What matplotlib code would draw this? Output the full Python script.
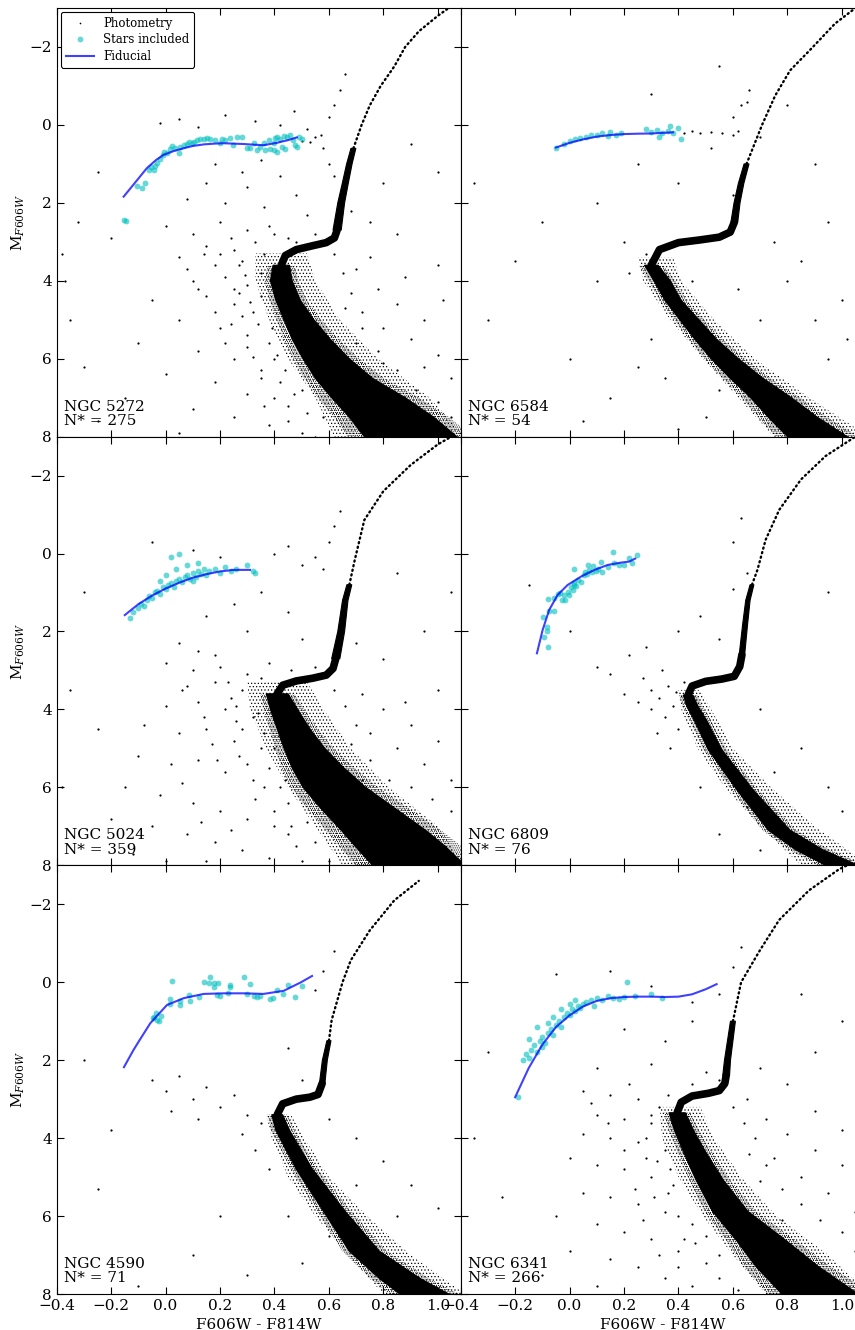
import matplotlib
matplotlib.use("Agg")
import matplotlib.pyplot as plt
import numpy as np
from matplotlib.patches import Polygon
from matplotlib.lines import Line2D

plt.rcParams['font.family'] = ['DejaVu Serif']
plt.rcParams['mathtext.fontset'] = 'dejavuserif'
plt.rcParams['hatch.linewidth'] = 0.5
plt.rcParams['hatch.color'] = 'black'
for ax_ in ('xtick', 'ytick'):
    plt.rcParams[ax_ + '.direction'] = 'in'
    plt.rcParams[ax_ + '.major.size'] = 5
    plt.rcParams[ax_ + '.major.width'] = 0.8
plt.rcParams['xtick.top'] = True
plt.rcParams['ytick.right'] = True

# ---------------- data ----------------
clusters = ["NGC 5272", "NGC 6584", "NGC 5024", "NGC 6809", "NGC 4590", "NGC 6341"]
n_stars = [275, 54, 359, 76, 71, 266]
x_ticks = [-0.4, -0.2, 0.0, 0.2, 0.4, 0.6, 0.8, 1.0]
y_ticks = [-2, 0, 2, 4, 6, 8]

# main sequence below the turn-off: magnitude, ridge colour, colour spread
ms_m_5272 = [3.6, 4.0, 4.5, 5.0, 5.5, 6.0, 6.5, 7.0, 7.5, 8.0, 8.3]
ms_c_5272 = [0.425, 0.425, 0.45, 0.49, 0.535, 0.59, 0.655, 0.745, 0.83, 0.90, 0.95]
ms_w_5272 = [0.06, 0.08, 0.09, 0.11, 0.14, 0.17, 0.21, 0.27, 0.31, 0.34, 0.34]
ms_m_6584 = [3.6, 4.0, 4.5, 5.0, 5.5, 6.0, 6.5, 7.0, 7.5, 8.0, 8.3]
ms_c_6584 = [0.30, 0.34, 0.38, 0.44, 0.50, 0.57, 0.65, 0.74, 0.82, 0.91, 0.97]
ms_w_6584 = [0.05, 0.06, 0.06, 0.07, 0.08, 0.10, 0.12, 0.15, 0.18, 0.22, 0.22]
ms_m_5024 = [3.6, 4.0, 4.5, 5.0, 5.5, 6.0, 6.5, 7.1, 7.5, 8.0, 8.3]
ms_c_5024 = [0.41, 0.435, 0.47, 0.51, 0.56, 0.62, 0.70, 0.80, 0.86, 0.93, 0.98]
ms_w_5024 = [0.08, 0.10, 0.12, 0.15, 0.19, 0.23, 0.27, 0.31, 0.33, 0.34, 0.34]
ms_m_6809 = [3.63, 3.9, 4.27, 5.04, 6.07, 7.1, 7.6, 8.0, 8.3]
ms_c_6809 = [0.435, 0.45, 0.48, 0.535, 0.645, 0.77, 0.88, 1.0, 1.07]
ms_w_6809 = [0.035, 0.04, 0.045, 0.05, 0.06, 0.08, 0.10, 0.12, 0.12]
ms_m_4590 = [3.4, 3.8, 4.8, 5.88, 6.9, 7.6, 8.0, 8.3]
ms_c_4590 = [0.41, 0.43, 0.51, 0.62, 0.73, 0.86, 0.95, 1.01]
ms_w_4590 = [0.04, 0.05, 0.06, 0.08, 0.11, 0.15, 0.18, 0.18]
ms_m_6341 = [3.35, 3.8, 4.3, 5.08, 5.88, 6.6, 7.3, 8.0, 8.3]
ms_c_6341 = [0.395, 0.42, 0.455, 0.515, 0.59, 0.70, 0.80, 0.92, 0.97]
ms_w_6341 = [0.06, 0.07, 0.08, 0.10, 0.13, 0.18, 0.23, 0.28, 0.28]

# sub-giant branch (turn-off to base of the giant branch)
sgb_c_5272 = [0.425, 0.44, 0.48, 0.54, 0.59, 0.62, 0.63]
sgb_m_5272 = [3.6, 3.35, 3.2, 3.1, 3.02, 2.9, 2.7]
sgb_c_6584 = [0.30, 0.33, 0.40, 0.48, 0.55, 0.59, 0.605]
sgb_m_6584 = [3.6, 3.2, 3.02, 2.95, 2.88, 2.75, 2.5]
sgb_c_5024 = [0.41, 0.43, 0.48, 0.54, 0.59, 0.615, 0.625]
sgb_m_5024 = [3.6, 3.38, 3.27, 3.2, 3.12, 2.95, 2.7]
sgb_c_6809 = [0.435, 0.45, 0.50, 0.56, 0.605, 0.625, 0.633]
sgb_m_6809 = [3.63, 3.4, 3.28, 3.22, 3.15, 2.9, 2.6]
sgb_c_4590 = [0.41, 0.43, 0.48, 0.53, 0.56, 0.575]
sgb_m_4590 = [3.4, 3.12, 3.0, 2.95, 2.88, 2.6]
sgb_c_6341 = [0.395, 0.41, 0.45, 0.51, 0.55, 0.57, 0.575]
sgb_m_6341 = [3.35, 3.08, 2.92, 2.85, 2.78, 2.6, 2.4]

# dense lower red-giant branch: magnitude, ridge colour, colour spread
rgb_m_5272 = [2.7, 2.0, 1.5, 1.0, 0.6]
rgb_c_5272 = [0.63, 0.645, 0.66, 0.675, 0.69]
rgb_w_5272 = [0.03, 0.025, 0.022, 0.02, 0.018]
rgb_m_6584 = [2.5, 2.0, 1.5, 1.0]
rgb_c_6584 = [0.605, 0.615, 0.63, 0.65]
rgb_w_6584 = [0.025, 0.022, 0.02, 0.018]
rgb_m_5024 = [2.7, 2.0, 1.2, 0.8]
rgb_c_5024 = [0.625, 0.645, 0.66, 0.675]
rgb_w_5024 = [0.03, 0.025, 0.02, 0.018]
rgb_m_6809 = [2.6, 1.8, 1.2, 0.8]
rgb_c_6809 = [0.633, 0.645, 0.655, 0.67]
rgb_w_6809 = [0.02, 0.018, 0.016, 0.014]
rgb_m_4590 = [2.6, 2.0, 1.5]
rgb_c_4590 = [0.575, 0.585, 0.60]
rgb_w_4590 = [0.02, 0.018, 0.015]
rgb_m_6341 = [2.4, 2.0, 1.0]
rgb_c_6341 = [0.575, 0.58, 0.60]
rgb_w_6341 = [0.025, 0.022, 0.018]

# sparse upper giant branch
up_c_5272 = [0.69, 0.72, 0.75, 0.79, 0.84, 0.88, 0.93, 1.0, 1.04]
up_m_5272 = [0.6, 0.0, -0.5, -1.0, -1.5, -2.0, -2.4, -2.8, -3.0]
up_c_6584 = [0.65, 0.707, 0.755, 0.81, 0.88, 0.975, 1.05]
up_m_6584 = [1.0, 0.0, -0.75, -1.4, -1.9, -2.6, -3.0]
up_c_5024 = [0.675, 0.695, 0.73, 0.80, 0.90, 1.0, 1.05]
up_m_5024 = [0.8, 0.16, -0.86, -1.6, -2.27, -2.8, -3.0]
up_c_6809 = [0.67, 0.69, 0.72, 0.77, 0.85, 0.94, 1.05]
up_m_6809 = [0.8, 0.42, -0.35, -1.12, -1.9, -2.5, -3.0]
up_c_4590 = [0.60, 0.61, 0.65, 0.68, 0.75, 0.84, 0.93]
up_m_4590 = [1.5, 0.97, 0.0, -0.56, -1.33, -2.1, -2.6]
up_c_6341 = [0.60, 0.63, 0.70, 0.77, 0.88, 0.99, 1.02]
up_m_6341 = [1.0, 0.0, -0.83, -1.6, -2.36, -2.9, -3.0]

# stippled envelope around the main sequence (magnitude, blue edge, red edge)
halo_m_5272 = [3.3, 4.0, 5.0, 6.0, 7.0, 8.0]
halo_l_5272 = [0.33, 0.33, 0.38, 0.45, 0.55, 0.62]
halo_r_5272 = [0.52, 0.55, 0.64, 0.78, 0.97, 1.10]
halo_m_6584 = [3.4, 4.0, 5.0, 6.0, 7.0, 8.0]
halo_l_6584 = [0.25, 0.27, 0.37, 0.49, 0.62, 0.75]
halo_r_6584 = [0.38, 0.41, 0.53, 0.68, 0.88, 1.10]
halo_m_5024 = [3.3, 4.0, 5.0, 6.0, 7.0, 8.0]
halo_l_5024 = [0.30, 0.31, 0.37, 0.45, 0.55, 0.65]
halo_r_5024 = [0.52, 0.58, 0.68, 0.82, 1.00, 1.10]
halo_m_6809 = [3.5, 4.0, 5.0, 6.0, 7.0, 8.0]
halo_l_6809 = [0.40, 0.41, 0.47, 0.57, 0.70, 0.85]
halo_r_6809 = [0.48, 0.52, 0.60, 0.74, 0.90, 1.10]
halo_m_4590 = [3.4, 4.0, 5.0, 6.0, 7.0, 8.0]
halo_l_4590 = [0.37, 0.39, 0.45, 0.55, 0.67, 0.80]
halo_r_4590 = [0.46, 0.51, 0.60, 0.74, 0.90, 1.10]
halo_m_6341 = [3.2, 4.0, 5.0, 6.0, 7.0, 8.0]
halo_l_6341 = [0.33, 0.34, 0.40, 0.49, 0.60, 0.72]
halo_r_6341 = [0.48, 0.53, 0.63, 0.76, 0.95, 1.10]

# stray photometry outside the main sequences (colour, magnitude)
field_5272 = [(-0.02, -0.05), (0.05, -0.15), (0.12, 0.05), (0.22, -0.25), (0.33, -0.10), (0.42, 0.00), (0.47, -0.35),
              (0.52, 0.10), (0.55, 0.30), (0.57, 0.25), (0.50, 0.40), (0.53, 0.45), (0.60, -0.20), (0.62, -0.50),
              (0.64, -0.90), (0.66, -1.30), (0.58, 0.60), (0.60, 1.00), (0.62, 1.30), (0.18, 1.00), (0.28, 1.20),
              (0.35, 0.90), (0.15, 1.50), (0.30, 1.60), (0.42, 1.30), (0.08, 1.90), (0.22, 2.00), (0.36, 2.10),
              (0.48, 1.80), (0.52, 2.30), (-0.25, 1.20), (-0.32, 2.50), (-0.20, 2.90), (-0.38, 3.30),
              (0.00, 2.60), (0.10, 2.80), (0.20, 2.50), (0.30, 2.70), (0.38, 2.60), (0.45, 2.90), (0.15, 3.10),
              (0.25, 3.20), (0.33, 3.00), (0.05, 3.40), (0.18, 3.60), (0.28, 3.50), (0.36, 3.30), (0.10, 4.00),
              (0.22, 3.90), (0.30, 4.10), (0.35, 3.80), (-0.05, 4.50), (0.15, 4.40), (0.25, 4.60), (0.32, 4.80),
              (0.05, 5.00), (0.20, 5.20), (0.30, 5.40), (0.38, 5.60), (-0.10, 5.60), (0.12, 5.80), (0.25, 6.00),
              (0.35, 6.30), (0.42, 6.60), (0.00, 6.40), (0.18, 6.60), (0.30, 6.90), (0.45, 7.20), (-0.15, 7.00),
              (0.10, 7.30), (0.25, 7.50), (0.38, 7.70), (0.50, 7.90), (0.05, 7.90), (-0.30, 6.20), (-0.25, 7.60),
              (-0.35, 5.00), (-0.37, 4.00), (0.70, 3.70), (0.78, 4.20), (0.85, 4.60), (0.95, 5.00), (1.02, 4.50),
              (0.72, 4.80), (0.90, 5.50), (1.00, 5.90), (0.80, 5.20), (1.05, 6.50), (0.95, 6.20), (0.75, 3.40),
              (0.88, 3.90), (1.00, 3.60), (0.68, 2.20), (0.75, 2.50), (0.85, 2.80), (0.80, 1.50), (0.90, 0.50),
              (1.00, 1.20), (0.27, 4.30), (0.34, 5.10), (0.40, 6.00), (0.47, 6.90), (0.22, 5.60), (0.36, 7.20),
              (0.29, 3.85), (0.31, 4.55), (0.41, 5.90), (0.52, 7.40), (0.28, 4.90), (0.30, 5.70), (0.35, 6.50),
              (0.40, 7.00), (0.45, 7.60), (0.55, 8.00), (0.25, 4.20), (0.27, 3.60), (0.20, 3.30), (0.24, 2.90),
              (0.40, 2.80), (0.48, 3.00), (0.55, 2.80), (0.62, 3.30), (0.65, 3.80), (0.68, 4.30), (0.72, 5.20),
              (0.78, 5.80), (0.85, 6.30), (0.92, 6.80), (1.00, 7.10), (1.05, 7.50), (0.66, 4.70), (0.70, 5.60),
              (0.80, 6.10), (0.88, 7.00), (0.35, 4.40), (0.39, 5.20), (0.44, 6.30), (0.50, 6.80), (0.58, 7.50),
              (0.32, 5.95), (0.24, 5.10), (0.18, 4.80), (0.12, 4.20), (0.08, 3.70), (0.14, 3.30)]
field_6584 = [(0.10, 2.0), (0.40, 1.5), (0.52, 0.6), (0.90, 1.0), (0.95, 2.5), (0.85, 3.5), (1.00, 4.5), (0.20, 3.0),
              (0.10, 4.0), (-0.20, 3.5), (-0.30, 5.0), (0.00, 6.0), (0.15, 7.0), (0.30, 5.5), (0.35, 6.5), (0.50, 7.5),
              (0.55, 6.8), (0.45, 4.0), (0.22, 3.8), (0.28, 3.3), (0.75, 3.0), (0.80, 4.0), (0.90, 5.0), (1.02, 5.5),
              (0.95, 6.0), (0.70, 5.0), (0.62, 4.2), (0.25, 6.2), (0.40, 7.8), (0.05, 7.6), (-0.10, 2.5), (-0.35, 1.5),
              (0.25, 1.0), (0.60, 1.8), (0.70, 0.3), (0.80, -0.5), (0.30, -0.8), (0.55, -1.5), (0.65, -0.6),
              (0.42, 0.20), (0.45, 0.15), (0.48, 0.22), (0.52, 0.18), (0.56, 0.20), (0.60, 0.25), (0.62, 0.15),
              (0.60, -0.20), (0.63, -0.50), (0.66, -0.90)]
field_5024 = [(-0.05, -0.3), (0.10, -0.1), (0.20, 0.1), (0.40, 0.0), (0.45, -0.2), (0.50, 0.3), (0.55, 0.1), (0.58, 0.4),
              (0.60, -0.3), (0.62, -0.7), (0.64, -1.1), (0.15, 1.6), (0.25, 1.3), (0.35, 1.0), (0.45, 1.5), (0.30, 2.0),
              (0.50, 2.2), (0.05, 2.3), (0.18, 2.6), (-0.30, 1.0), (-0.35, 3.5), (-0.25, 4.5), (-0.38, 6.0),
              (0.00, 2.8), (0.10, 3.0), (0.20, 2.9), (0.30, 3.1), (0.08, 3.4), (0.18, 3.3), (0.28, 3.5), (0.35, 3.2),
              (0.00, 3.9), (0.12, 3.8), (0.22, 4.0), (0.32, 4.2), (-0.08, 4.4), (0.05, 4.6), (0.15, 4.5), (0.25, 4.8),
              (0.35, 5.0), (-0.10, 5.2), (0.02, 5.4), (0.12, 5.3), (0.22, 5.6), (0.32, 5.8), (0.42, 6.0), (-0.15, 6.0),
              (-0.02, 6.2), (0.10, 6.4), (0.20, 6.6), (0.30, 6.8), (0.40, 7.0), (-0.20, 6.8), (-0.05, 7.0), (0.08, 7.2),
              (0.18, 7.4), (0.28, 7.6), (0.38, 7.8), (0.48, 7.5), (-0.12, 7.7), (0.00, 7.9), (0.15, 7.9), (0.52, 6.9),
              (0.45, 6.4), (0.72, 3.6), (0.80, 4.0), (0.90, 4.4), (1.00, 4.8), (0.75, 4.6), (0.85, 5.0), (0.95, 5.4),
              (1.05, 5.8), (0.88, 3.8), (1.00, 3.5), (0.70, 2.3), (0.80, 2.7), (0.95, 2.0), (1.05, 1.0), (0.85, 0.5),
              (0.26, 4.3), (0.36, 4.6), (0.27, 5.2), (0.38, 5.5), (0.33, 6.3), (0.45, 7.2), (0.24, 7.1), (0.13, 6.9),
              (0.06, 5.9), (0.17, 4.9), (0.24, 3.7), (0.40, 3.9), (0.28, 4.5), (0.30, 5.4), (0.36, 6.0), (0.40, 6.6),
              (0.46, 7.0), (0.50, 7.9), (0.26, 3.9), (0.23, 3.3), (0.38, 2.8), (0.46, 3.0), (0.55, 2.9), (0.62, 3.5),
              (0.66, 3.9), (0.70, 4.4), (0.75, 5.3), (0.82, 5.8), (0.90, 6.0), (0.98, 6.3), (1.05, 6.6), (0.68, 4.9),
              (0.72, 5.8), (0.80, 6.4), (0.34, 4.1), (0.40, 5.0), (0.44, 5.8), (0.55, 7.4), (0.60, 7.9), (0.19, 5.3),
              (0.14, 4.2), (0.06, 3.5), (0.12, 2.5)]
field_6809 = [(0.30, 3.5), (0.33, 3.7), (0.36, 3.4), (0.38, 3.9), (0.35, 4.2), (0.30, 4.0), (0.25, 3.8), (0.40, 4.5),
              (0.42, 3.3), (0.27, 3.2), (0.20, 3.6), (0.32, 4.6), (0.37, 5.0), (0.15, 3.1), (0.10, 2.9), (0.22, 2.6),
              (0.28, 2.4), (0.55, 2.2), (0.48, 1.6), (0.40, 2.0), (0.60, 0.9), (0.65, 0.5), (0.95, 1.0), (0.70, 4.0),
              (0.85, 5.0), (0.95, 6.0), (0.75, 5.6), (1.00, 6.6), (0.65, 6.5), (0.55, 7.2), (0.70, 7.6), (0.48, 6.0),
              (-0.15, 0.8), (0.00, 2.0), (0.60, -0.3), (0.63, -0.9), (0.34, 3.0), (0.39, 3.55)]
field_4590 = [(-0.05, 2.5), (0.00, 2.8), (0.05, 2.4), (0.10, 3.0), (0.15, 2.7), (0.20, 3.2), (0.25, 2.9), (0.02, 3.3),
              (0.12, 3.5), (0.30, 3.4), (0.35, 3.6), (0.28, 3.9), (0.33, 4.3), (0.38, 4.8), (-0.20, 3.8), (-0.25, 5.3),
              (0.60, 3.5), (0.70, 4.0), (0.80, 4.6), (0.90, 5.2), (1.00, 5.8), (0.70, 5.2), (0.85, 6.0), (0.60, 6.5),
              (0.50, 7.2), (0.45, 6.0), (0.55, 5.5), (0.30, 7.5), (0.10, 7.0), (-0.10, 7.8), (0.50, 2.5), (0.45, 1.7),
              (0.55, 0.2), (0.58, -0.3), (0.62, -0.8), (-0.30, 2.0), (0.20, 6.0)]
field_6341 = [(-0.05, -0.2), (0.15, -0.3), (0.30, 0.1), (0.45, 0.5), (0.55, 0.3), (0.60, -0.4), (0.63, -0.9), (0.20, 1.2),
              (0.35, 1.5), (0.45, 1.0), (0.10, 2.2), (0.30, 2.1), (0.50, 2.3), (-0.30, 1.8), (-0.35, 4.0), (-0.25, 5.5),
              (0.05, 2.8), (0.15, 2.9), (0.25, 3.0), (0.33, 3.2), (0.10, 3.4), (0.20, 3.5), (0.30, 3.6), (0.05, 3.9),
              (0.15, 4.0), (0.25, 4.1), (0.35, 4.3), (0.00, 4.5), (0.10, 4.7), (0.20, 4.8), (0.30, 5.0), (0.38, 5.2),
              (0.05, 5.4), (0.15, 5.5), (0.25, 5.7), (0.35, 5.9), (0.45, 6.2), (-0.05, 6.0), (0.10, 6.2), (0.20, 6.4),
              (0.30, 6.6), (0.40, 6.9), (0.50, 7.2), (0.00, 6.9), (0.15, 7.1), (0.25, 7.3), (0.35, 7.6), (0.45, 7.8),
              (0.55, 7.6), (0.10, 7.8), (-0.10, 7.5), (0.22, 2.6), (0.65, 3.0), (0.72, 3.5), (0.80, 3.9), (0.90, 4.3),
              (1.00, 4.7), (0.75, 4.5), (0.85, 5.0), (0.95, 5.4), (1.05, 5.9), (0.90, 3.3), (1.00, 3.8), (0.70, 2.2),
              (0.80, 2.6), (0.90, 1.8), (1.00, 1.0), (0.85, 0.3), (0.28, 4.5), (0.37, 4.8), (0.31, 5.5), (0.42, 6.6),
              (0.27, 6.1), (0.33, 7.0), (0.28, 4.0), (0.32, 4.6), (0.36, 5.4), (0.40, 6.0), (0.46, 6.7), (0.55, 7.0),
              (0.62, 7.9), (0.30, 3.4), (0.36, 2.9), (0.45, 2.6), (0.55, 2.5), (0.60, 3.2), (0.64, 3.6), (0.68, 4.0),
              (0.72, 4.7), (0.78, 5.3), (0.85, 5.7), (0.92, 6.1), (1.00, 6.4), (1.05, 6.9), (0.66, 4.4), (0.70, 5.1),
              (0.78, 6.1), (0.20, 4.3), (0.14, 3.6), (0.08, 3.1), (0.24, 5.3), (0.40, 7.3), (0.50, 6.5)]

# horizontal-branch stars used for the fiducial
hb_c_5272 = [-0.105, -0.087, -0.077, -0.062, -0.054, -0.044, -0.040, -0.032, -0.019, -0.010, -0.005, 0.005, 0.017, 0.023, 0.036,
             0.048, 0.054, 0.066, 0.079, 0.085, 0.097, 0.103, 0.115, 0.128, 0.140, 0.152, 0.164, 0.183, 0.201, 0.207, 0.219,
             0.238, 0.247, 0.262, 0.281, 0.299, 0.311, 0.323, 0.336, 0.348, 0.360, 0.366, 0.379, 0.385, 0.397, 0.397, 0.403,
             0.409, 0.409, 0.421, 0.427, 0.434, 0.440, 0.446, 0.458, 0.468, 0.476, 0.482, 0.489, 0.501, -0.153, -0.145]
hb_m_5272 = [1.568, 1.611, 1.482, 1.157, 1.072, 1.157, 1.046, 0.986, 0.884, 0.772, 0.687, 0.713, 0.618, 0.541, 0.601,
             0.730, 0.559, 0.516, 0.499, 0.430, 0.473, 0.430, 0.387, 0.370, 0.370, 0.345, 0.370, 0.387, 0.473, 0.370, 0.387,
             0.345, 0.516, 0.302, 0.302, 0.601, 0.584, 0.473, 0.644, 0.559, 0.473, 0.644, 0.387, 0.627, 0.473, 0.644, 0.345,
             0.302, 0.687, 0.370, 0.559, 0.285, 0.627, 0.319, 0.259, 0.387, 0.516, 0.559, 0.302, 0.370, 2.44, 2.46]
hb_c_6584 = [-0.05, -0.02, 0.0, 0.02, 0.04, 0.06, 0.08, 0.10, 0.12, 0.14, 0.15, 0.17, 0.19, 0.28, 0.30, 0.32, 0.34, 0.36, 0.38, 0.40, 0.41, 0.33, 0.37]
hb_m_6584 = [0.60, 0.48, 0.42, 0.36, 0.33, 0.30, 0.25, 0.27, 0.22, 0.28, 0.18, 0.25, 0.20, 0.10, 0.18, 0.12, 0.20, 0.15, 0.22, 0.08, 0.35, 0.30, 0.02]
hb_c_5024 = [-0.13, -0.12, -0.10, -0.09, -0.08, -0.07, -0.06, -0.05, -0.04, -0.03, -0.02, -0.01, 0.0, 0.01, 0.02, 0.03, 0.04, 0.05,
             0.06, 0.07, 0.08, 0.09, 0.10, 0.11, 0.12, 0.13, 0.14, 0.15, 0.16, 0.18, 0.20, 0.22, 0.24, 0.26, 0.30, 0.32, 0.33,
             0.02, 0.05, 0.08, -0.02, 0.0, 0.04, 0.10, 0.12]
hb_m_5024 = [1.65, 1.50, 1.40, 1.30, 1.35, 1.20, 1.10, 1.15, 1.00, 0.95, 1.05, 0.85, 0.90, 0.80, 0.75, 0.85, 0.70, 0.65,
             0.72, 0.60, 0.55, 0.65, 0.50, 0.60, 0.45, 0.52, 0.40, 0.55, 0.45, 0.40, 0.50, 0.35, 0.45, 0.40, 0.30, 0.45, 0.50,
             0.10, 0.0, 0.30, 0.70, 0.55, 0.40, 0.70, 0.25]
hb_c_6809 = [-0.078, -0.095, -0.083, -0.083, -0.099, -0.075, -0.056, -0.078, -0.056, -0.044, -0.034, -0.029, -0.017, -0.019,
             -0.007, -0.001, 0.005, 0.011, 0.017, 0.015, 0.023, 0.032, 0.042, 0.017, 0.052, 0.056, 0.064, 0.066, 0.072, 0.081,
             0.085, 0.097, 0.103, 0.115, 0.118, 0.140, 0.158, 0.162, 0.183, 0.201, 0.217, 0.228, 0.248]
hb_m_6809 = [2.389, 2.149, 1.987, 1.875, 1.636, 1.465, 1.473, 1.165, 1.148, 1.046, 1.003, 1.191, 1.191, 1.063,
             0.977, 1.063, 0.866, 0.934, 0.806, 0.746, 0.832, 0.678, 0.720, 0.404, 0.550, 0.464, 0.524, 0.293, 0.421, 0.464,
             0.319, 0.438, 0.404, 0.207, 0.464, 0.336, -0.032, 0.250, 0.293, 0.293, 0.105, 0.250, 0.036]
hb_c_4590 = [0.023, 0.015, 0.017, 0.054, 0.054, 0.085, 0.091, 0.121, 0.140, 0.158, 0.162, 0.176, 0.176, 0.192, 0.189, 0.201,
             0.231, 0.238, 0.235, 0.287, 0.311, 0.299, 0.323, 0.336, 0.348, 0.385, 0.394, 0.409, 0.433, 0.449, 0.476, 0.501,
             -0.044, -0.032, -0.035, -0.025, -0.016, -0.048]
hb_m_4590 = [-0.031, 0.44, 0.56, 0.474, 0.585, 0.329, 0.474, 0.372, 0.004, 0.030, -0.142, 0.030, 0.115, 0.012, 0.329, 0.346,
             0.286, 0.072, 0.132, -0.142, 0.047, 0.303, 0.346, 0.372, 0.346, 0.431, 0.414, 0.200, 0.303, 0.072, 0.389, 0.089,
             0.885, 0.970, 0.799, 0.996, 0.859, 0.927]
hb_c_6341 = [-0.19, -0.17, -0.16, -0.15, -0.14, -0.13, -0.12, -0.11, -0.10, -0.09, -0.08, -0.07, -0.06, -0.05, -0.04, -0.03,
             -0.02, -0.01, 0.0, 0.01, 0.02, 0.03, 0.04, 0.05, 0.06, 0.08, 0.10, 0.12, 0.14, 0.16, 0.18, 0.20, 0.24, 0.30, 0.34,
             -0.12, -0.10, -0.06, -0.03, 0.0, -0.15, -0.08, 0.02, 0.09, 0.21]
hb_m_6341 = [2.95, 2.0, 1.85, 1.95, 1.75, 1.60, 1.80, 1.50, 1.40, 1.55, 1.30, 1.20, 1.35, 1.10, 1.00, 1.15, 0.90, 0.80,
             0.85, 0.70, 0.75, 0.60, 0.65, 0.55, 0.50, 0.45, 0.40, 0.45, 0.35, 0.40, 0.42, 0.38, 0.35, 0.30, 0.40,
             1.15, 1.65, 0.90, 0.70, 0.55, 1.45, 1.05, 0.45, 0.60, 0.0]

# fiducial horizontal-branch sequences
fid_c_5272 = [-0.154, -0.105, -0.069, -0.035, -0.008, 0.030, 0.066, 0.10, 0.14, 0.18, 0.213, 0.25, 0.287, 0.33, 0.36, 0.408, 0.45, 0.482]
fid_m_5272 = [1.84, 1.42, 1.11, 0.90, 0.77, 0.67, 0.60, 0.54, 0.50, 0.48, 0.47, 0.48, 0.49, 0.51, 0.52, 0.46, 0.39, 0.32]
fid_c_6584 = [-0.05, 0.0, 0.05, 0.10, 0.15, 0.20, 0.25, 0.30, 0.38]
fid_m_6584 = [0.58, 0.46, 0.37, 0.30, 0.26, 0.235, 0.225, 0.22, 0.19]
fid_c_5024 = [-0.15, -0.10, -0.05, 0.0, 0.05, 0.10, 0.15, 0.20, 0.25, 0.31]
fid_m_5024 = [1.58, 1.30, 1.08, 0.90, 0.75, 0.62, 0.53, 0.46, 0.42, 0.42]
fid_c_6809 = [-0.120, -0.099, -0.075, -0.044, -0.007, 0.042, 0.091, 0.140, 0.189, 0.219, 0.241]
fid_m_6809 = [2.56, 1.961, 1.448, 1.063, 0.806, 0.592, 0.421, 0.293, 0.233, 0.207, 0.130]
fid_c_4590 = [-0.153, -0.118, -0.095, -0.056, 0.005, 0.066, 0.14, 0.213, 0.287, 0.36, 0.434, 0.495, 0.538]
fid_m_4590 = [2.18, 1.74, 1.48, 1.05, 0.585, 0.41, 0.30, 0.285, 0.285, 0.30, 0.22, 0.01, -0.16]
fid_c_6341 = [-0.2, -0.15, -0.10, -0.05, 0.0, 0.05, 0.10, 0.15, 0.20, 0.25, 0.30, 0.35, 0.40, 0.45, 0.50, 0.54]
fid_m_6341 = [2.95, 2.2, 1.6, 1.15, 0.85, 0.62, 0.48, 0.41, 0.38, 0.37, 0.37, 0.38, 0.37, 0.31, 0.18, 0.05]


def grab(tag):
    g = globals()
    return {k: g[f"{k}_{tag}"] for k in
            ("ms_m", "ms_c", "ms_w", "sgb_c", "sgb_m", "rgb_m", "rgb_c", "rgb_w", "up_c", "up_m",
             "halo_m", "halo_l", "halo_r", "field", "hb_c", "hb_m", "fid_c", "fid_m")}


panels = {name: grab(name.split()[1]) for name in clusters}


def band(ax, m, c, w, scale=1.0, pad=0.0, z=2, **kw):
    c = np.asarray(c, float); w = np.asarray(w, float) * scale + pad
    verts = list(zip(c - w / 2, m)) + list(zip((c + w / 2)[::-1], m[::-1]))
    ax.add_patch(Polygon(verts, closed=True, zorder=z, **kw))


# ---------------- figure ----------------
DPI = 100
fig = plt.figure(figsize=(8.55, 13.3), dpi=DPI)
XLIM = (-0.4, 1.084)
YLIM = (8.0, -3.0)
ax_w = 404 / 855
ax_h = 428.7 / 1330
lefts = [56.7 / 855, 460.7 / 855]
bottoms = [1 - 436.7 / 1330, 1 - 865.3 / 1330, 1 - 1294 / 1330]

for i, name in enumerate(clusters):
    row, col = divmod(i, 2)
    ax = fig.add_axes([lefts[col], bottoms[row], ax_w, ax_h])
    d = panels[name]

    # stippled envelope around the main sequence
    hl, hr, hm = d["halo_l"], d["halo_r"], d["halo_m"]
    verts = list(zip(hl, hm)) + list(zip(hr[::-1], hm[::-1]))
    ax.add_patch(Polygon(verts, closed=True, facecolor='none', edgecolor='black', lw=0,
                         hatch='.....', zorder=1))
    # denser stipple just outside the solid sequence
    band(ax, d["ms_m"], d["ms_c"], d["ms_w"], scale=1.3, pad=0.02, z=1.2,
         facecolor='none', edgecolor='black', lw=0, hatch='........')

    # stray stars
    fx, fy = zip(*d["field"])
    ax.plot(fx, fy, 'o', color='black', ms=1.6, mew=0, zorder=1.5)

    # dense sequences
    band(ax, d["ms_m"], d["ms_c"], d["ms_w"], facecolor='black', edgecolor='black', lw=0.8)
    band(ax, d["rgb_m"], d["rgb_c"], d["rgb_w"], facecolor='black', edgecolor='black', lw=0.8)
    ax.plot(d["sgb_c"], d["sgb_m"], color='black', lw=5.5, solid_capstyle='round',
            solid_joinstyle='round', zorder=2)
    # sparse upper giant branch
    ax.plot(d["up_c"], d["up_m"], color='black', lw=1.7, linestyle=(0, (0.5, 1.5)),
            dash_capstyle='round', zorder=2)

    ax.plot(d["hb_c"], d["hb_m"], 'o', color='c', alpha=0.6, ms=4.2, mew=0, zorder=3)
    ax.plot(d["fid_c"], d["fid_m"], '-', color='b', alpha=0.75, lw=1.5, zorder=4)

    ax.set_xlim(*XLIM)
    ax.set_ylim(*YLIM)
    ax.set_xticks(x_ticks)
    ax.set_yticks(y_ticks)
    ax.tick_params(labelsize=11)
    if col == 0:
        ax.set_yticklabels(['\u22122', '0', '2', '4', '6', '8'])
        ax.set_ylabel(r'M$_{F606W}$', fontsize=11, labelpad=2)
    else:
        ax.set_yticklabels([])
    if row == 2:
        ax.set_xticklabels(['\u22120.4', '\u22120.2', '0.0', '0.2', '0.4', '0.6', '0.8', '1.0'])
        ax.set_xlabel('F606W - F814W', fontsize=11)
    else:
        ax.set_xticklabels([])
    ax.text(0.018, 0.02, f"{name}\nN* = {n_stars[i]}", transform=ax.transAxes, fontsize=11,
            ha='left', va='bottom', linespacing=1.05, zorder=5)

    if i == 0:
        handles = [Line2D([], [], marker='o', ls='none', color='black', ms=1.2, mew=0),
                   Line2D([], [], marker='o', ls='none', color='c', alpha=0.6, ms=4.2, mew=0),
                   Line2D([], [], color='b', alpha=0.75, lw=1.5)]
        leg = ax.legend(handles, ['Photometry', 'Stars included', 'Fiducial'], loc='upper left',
                        fontsize=8.5, numpoints=1, fancybox=True, framealpha=1, edgecolor='black',
                        borderaxespad=0.35, handlelength=2.4, labelspacing=0.3)
        leg.get_frame().set_linewidth(0.8)
        leg.set_zorder(6)

fig.savefig('out.png', dpi=DPI)
